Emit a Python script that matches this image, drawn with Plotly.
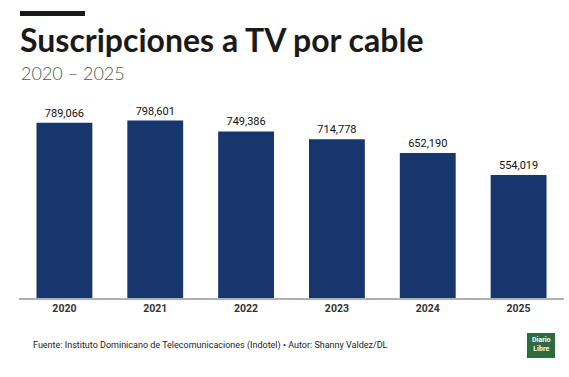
import plotly.graph_objects as go

years = ["2020", "2021", "2022", "2023", "2024", "2025"]
subs = [789066, 798601, 749386, 714778, 652190, 554019]
labels = ["789,066", "798,601", "749,386", "714,778", "652,190", "554,019"]

ML, MR, MT, MB = 19, 5, 98, 79

fig = go.Figure(go.Bar(
    x=years, y=subs, text=labels, textposition="outside",
    marker=dict(color="#17366e", line=dict(width=0)),
    textfont=dict(family="Roboto", size=11, color="#111111"),
    cliponaxis=False,
))

fig.update_layout(
    width=569, height=377,
    margin=dict(l=ML, r=MR, t=MT, b=MB),
    paper_bgcolor="white", plot_bgcolor="white",
    bargap=0.385, showlegend=False,
    xaxis=dict(showline=True, linecolor="#b0b0b0", linewidth=1.5, ticks="",
               tickfont=dict(family="Roboto", size=10.5, color="#333333", weight="bold")),
    yaxis=dict(range=[0, 900000], visible=False, showgrid=False),
)

H = 377 - MT - MB
W = 569 - ML - MR
def px(x): return (x - ML) / W
def py(y): return (377 - MB - y) / H

fig.update_layout(shapes=[
    dict(type="rect", xref="paper", yref="paper", x0=px(20), x1=px(85),
         y0=py(16), y1=py(11), fillcolor="#1a1a1a", line=dict(width=0)),
    dict(type="rect", xref="paper", yref="paper", x0=px(527), x1=px(555),
         y0=py(358), y1=py(333), fillcolor="#2e6b3f", line=dict(width=0)),
])

fig.add_annotation(text="<b>Suscripciones a TV por cable</b>", xref="paper", yref="paper",
                   x=px(18), y=py(40), xanchor="left", yanchor="middle", showarrow=False,
                   font=dict(family="Lato", size=32, color="#1a1a1a", weight=900))
fig.add_annotation(text="2020 – 2025", xref="paper", yref="paper",
                   x=px(19), y=py(73), xanchor="left", yanchor="middle", showarrow=False,
                   font=dict(family="Lato", size=18, color="#555555", weight=300))
fig.add_annotation(text="Fuente: Instituto Dominicano de Telecomunicaciones (Indotel) • Autor: Shanny Valdez/DL",
                   xref="paper", yref="paper",
                   x=px(31), y=py(345), xanchor="left", yanchor="middle", showarrow=False,
                   font=dict(family="Roboto", size=9, color="#222222"))
fig.add_annotation(text="<b>Diario<br>Libre</b>", xref="paper", yref="paper",
                   x=px(541), y=py(344), xanchor="center", yanchor="middle", showarrow=False,
                   font=dict(family="Roboto", size=7, color="white"))

fig.write_html("out.html", config={"displayModeBar": False},
               post_script="document.body.style.margin='0';")
